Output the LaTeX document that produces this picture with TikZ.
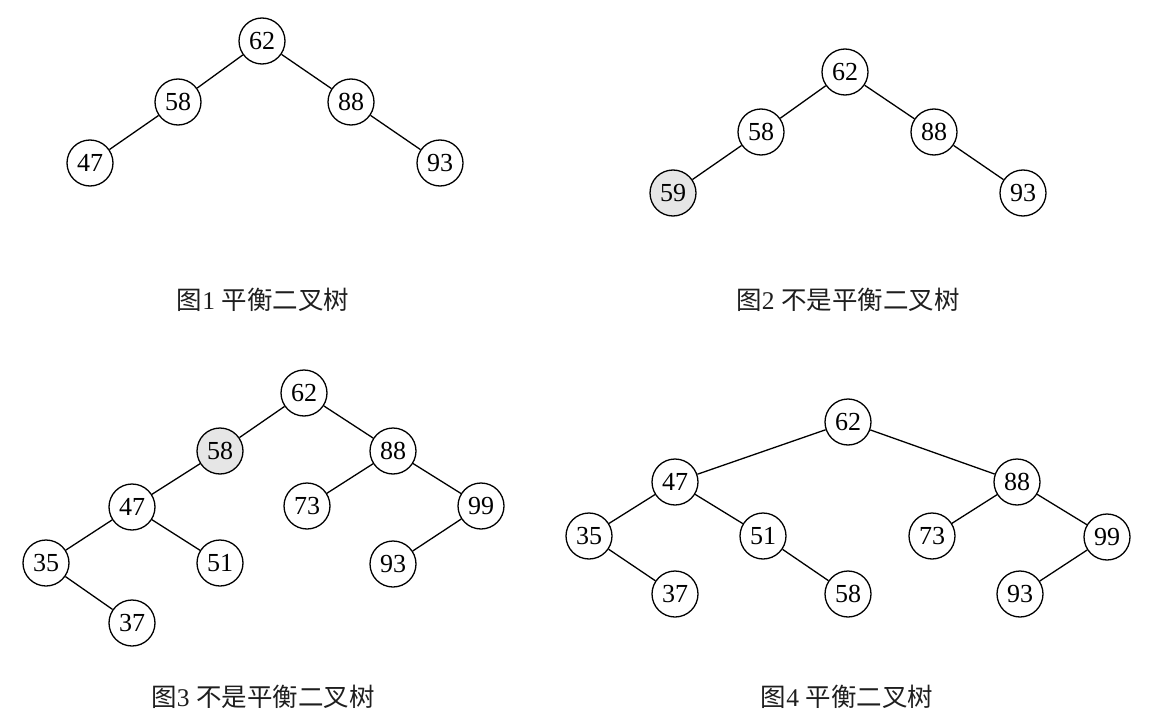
\documentclass[tikz,border=0pt]{standalone}
\usepackage{fontspec}
\setmainfont{Liberation Serif}
\newfontfamily\cjk{Noto Sans CJK SC}
\definecolor{nodegray}{RGB}{230,230,230}
\definecolor{captcol}{RGB}{30,30,30}
\begin{document}
\begin{tikzpicture}[x=1pt,y=-1pt,
  tn/.style={circle,draw,line width=1.3pt,minimum size=46pt,inner sep=0pt,
    font=\fontsize{26}{26}\selectfont},
  hl/.style={tn,fill=nodegray},
  edge/.style={line width=1.3pt},
  captext/.style={font=\fontsize{25.5}{25.5}\selectfont,inner sep=0pt,text=captcol}]
\useasboundingbox (0,0) rectangle (1152,725);
% Figure 1
\node[tn] (a62) at (262,41) {62};
\node[tn] (a58) at (178,102) {58};
\node[tn] (a88) at (351,102) {88};
\node[tn] (a47) at (90,163) {47};
\node[tn] (a93) at (440,163) {93};
\draw[edge] (a62)--(a58) (a62)--(a88) (a58)--(a47) (a88)--(a93);
\node[captext] (c1) at (263,300) {{\cjk 图}1 {\cjk 平衡二叉树}};
% Figure 2
\node[tn] (b62) at (845,72) {62};
\node[tn] (b58) at (761,132) {58};
\node[tn] (b88) at (934,132) {88};
\node[hl] (b59) at (673,193) {59};
\node[tn] (b93) at (1023,193) {93};
\draw[edge] (b62)--(b58) (b62)--(b88) (b58)--(b59) (b88)--(b93);
\node[captext] (c2) at (848,300) {{\cjk 图}2 {\cjk 不是平衡二叉树}};
% Figure 3
\node[tn] (d62) at (304,393) {62};
\node[hl] (d58) at (220,451) {58};
\node[tn] (d88) at (393,451) {88};
\node[tn] (d47) at (132,507) {47};
\node[tn] (d73) at (307,506) {73};
\node[tn] (d99) at (481,506) {99};
\node[tn] (d35) at (46,563) {35};
\node[tn] (d51) at (220,563) {51};
\node[tn] (d93) at (393,564) {93};
\node[tn] (d37) at (132,623) {37};
\draw[edge] (d62)--(d58) (d62)--(d88) (d58)--(d47) (d88)--(d73) (d88)--(d99)
  (d47)--(d35) (d47)--(d51) (d99)--(d93) (d35)--(d37);
\node[captext] (c3) at (263,697) {{\cjk 图}3 {\cjk 不是平衡二叉树}};
% Figure 4
\node[tn] (e62) at (848,422) {62};
\node[tn] (e47) at (675,482) {47};
\node[tn] (e88) at (1017,482) {88};
\node[tn] (e35) at (589,536) {35};
\node[tn] (e51) at (763,536) {51};
\node[tn] (e73) at (932,536) {73};
\node[tn] (e99) at (1107,537) {99};
\node[tn] (e37) at (675,594) {37};
\node[tn] (e58) at (848,594) {58};
\node[tn] (e93) at (1020,594) {93};
\draw[edge] (e62)--(e47) (e62)--(e88) (e47)--(e35) (e47)--(e51) (e35)--(e37)
  (e51)--(e58) (e88)--(e73) (e88)--(e99) (e99)--(e93);
\node[captext] (c4) at (847,697) {{\cjk 图}4 {\cjk 平衡二叉树}};
\end{tikzpicture}
\end{document}
